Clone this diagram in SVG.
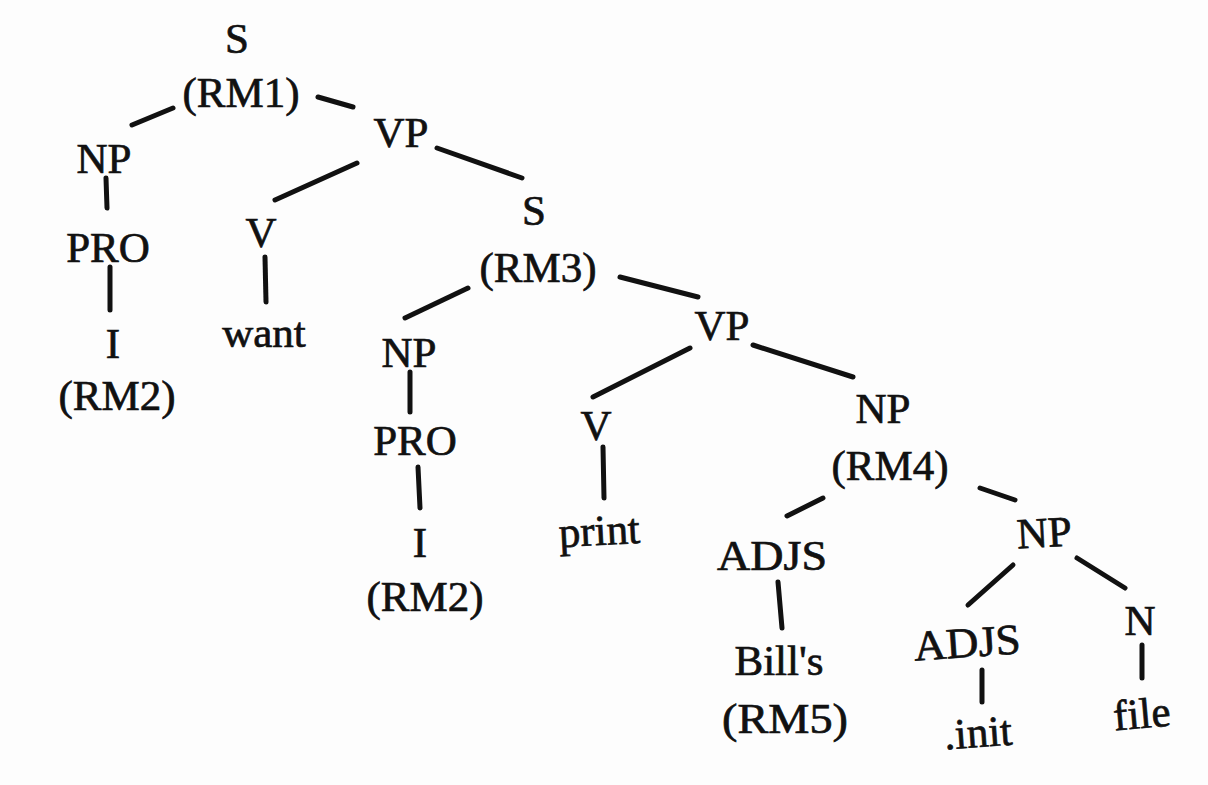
<svg xmlns="http://www.w3.org/2000/svg" width="1208" height="785" viewBox="0 0 1208 785">
  <style>
    .lbl { font-family: "Liberation Serif", "Times New Roman", serif; font-size: 43px; fill: #111; stroke: #111; stroke-width: 0.7px; text-anchor: middle; }
    .edge { stroke: #111; stroke-width: 5; stroke-linecap: round; fill: none; }
  </style>
  <rect width="1208" height="785" fill="#fdfdfd"/>

  <!-- tree branches -->
  <g id="connectors">
    <line class="edge" x1="173" y1="108" x2="132" y2="125"/>
    <line class="edge" x1="318" y1="97" x2="353" y2="107"/>
    <line class="edge" x1="106" y1="178" x2="107" y2="208"/>
    <line class="edge" x1="357" y1="163" x2="275" y2="200"/>
    <line class="edge" x1="110" y1="267" x2="110" y2="310"/>
    <line class="edge" x1="265" y1="257" x2="266" y2="302"/>
    <line class="edge" x1="437" y1="148" x2="522" y2="178"/>
    <line class="edge" x1="468" y1="288" x2="405" y2="318"/>
    <line class="edge" x1="620" y1="277" x2="698" y2="297"/>
    <line class="edge" x1="410" y1="372" x2="410" y2="412"/>
    <line class="edge" x1="690" y1="348" x2="593" y2="397"/>
    <line class="edge" x1="753" y1="345" x2="853" y2="377"/>
    <line class="edge" x1="418" y1="467" x2="420" y2="508"/>
    <line class="edge" x1="603" y1="447" x2="604" y2="498"/>
    <line class="edge" x1="823" y1="498" x2="787" y2="516"/>
    <line class="edge" x1="980" y1="488" x2="1015" y2="500"/>
    <line class="edge" x1="778" y1="582" x2="782" y2="628"/>
    <line class="edge" x1="1013" y1="565" x2="968" y2="605"/>
    <line class="edge" x1="1077" y1="558" x2="1125" y2="588"/>
    <line class="edge" x1="982" y1="670" x2="982" y2="702"/>
    <line class="edge" x1="1142" y1="645" x2="1142" y2="678"/>
  </g>

  <!-- top sentence -->
  <g id="s-rm1"><text class="lbl" x="237" y="53">S</text><text class="lbl" x="241" y="107">(RM1)</text></g>
  <g id="np-1"><text class="lbl" x="104" y="173">NP</text></g>
  <g id="pro-1"><text class="lbl" x="108" y="262">PRO</text></g>
  <g id="i-rm2-1"><text class="lbl" x="113" y="358">I</text><text class="lbl" x="117" y="410">(RM2)</text></g>
  <g id="vp-1"><text class="lbl" x="401" y="147">VP</text></g>
  <g id="v-1"><text class="lbl" x="261" y="247">V</text></g>
  <g id="want"><text class="lbl" x="264" y="347">want</text></g>

  <!-- embedded sentence -->
  <g id="s-rm3"><text class="lbl" x="534" y="225">S</text><text class="lbl" x="538" y="282">(RM3)</text></g>
  <g id="np-2"><text class="lbl" x="409" y="367">NP</text></g>
  <g id="pro-2"><text class="lbl" x="415" y="455">PRO</text></g>
  <g id="i-rm2-2"><text class="lbl" x="420" y="557">I</text><text class="lbl" x="425" y="611">(RM2)</text></g>
  <g id="vp-2"><text class="lbl" x="722" y="340">VP</text></g>
  <g id="v-2"><text class="lbl" x="596" y="440">V</text></g>
  <g id="print"><text class="lbl" x="600" y="545" transform="rotate(-3 600 545)">print</text></g>

  <!-- object noun phrase -->
  <g id="np-rm4"><text class="lbl" x="883" y="423">NP</text><text class="lbl" x="890" y="480">(RM4)</text></g>
  <g id="adjs-1"><text class="lbl" x="772" y="570" textLength="110" lengthAdjust="spacingAndGlyphs">ADJS</text></g>
  <g id="bills-rm5"><text class="lbl" x="779" y="675">Bill's</text><text class="lbl" x="785" y="733" textLength="126" lengthAdjust="spacingAndGlyphs">(RM5)</text></g>
  <g id="np-3"><text class="lbl" x="1045" y="547" transform="rotate(-3 1045 547)">NP</text></g>
  <g id="adjs-2"><text class="lbl" x="968" y="657" textLength="107" lengthAdjust="spacingAndGlyphs" transform="rotate(-4 968 657)">ADJS</text></g>
  <g id="init"><text class="lbl" x="979" y="747" transform="rotate(-4 979 747)">.init</text></g>
  <g id="n"><text class="lbl" x="1140" y="635">N</text></g>
  <g id="file"><text class="lbl" x="1143" y="728" transform="rotate(-5 1143 728)">file</text></g>
</svg>
